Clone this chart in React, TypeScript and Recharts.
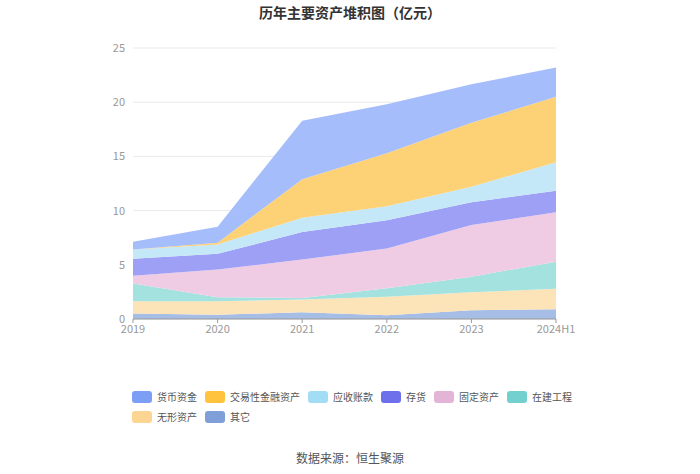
import { AreaChart, Area, XAxis, YAxis, CartesianGrid } from "recharts";

const years = ["2019", "2020", "2021", "2022", "2023", "2024H1"];

// 单位：亿元，自下而上堆积
const qita = [0.5, 0.4, 0.62, 0.35, 0.8, 0.9];
const wuxing = [1.14, 1.24, 1.17, 1.71, 1.66, 1.9];
const zaijian = [1.63, 0.36, 0.15, 0.77, 1.44, 2.49];
const guding = [0.73, 2.57, 3.55, 3.67, 4.77, 4.55];
const cunhuo = [1.55, 1.45, 2.53, 2.6, 2.09, 2.0];
const yingshou = [0.87, 0.86, 1.33, 1.3, 1.44, 2.61];
const jiaoyi = [0, 0.16, 3.55, 4.9, 5.9, 6.05];
const huobi = [0.71, 1.48, 5.4, 4.5, 3.55, 2.7];

const yTicks = [0, 5, 10, 15, 20, 25];

const series = [
  { key: "qita", name: "其它", values: qita, fill: "#A6BDE6", legend: "#7E9FD8" },
  { key: "wuxing", name: "无形资产", values: wuxing, fill: "#FDE3B8", legend: "#FDD592" },
  { key: "zaijian", name: "在建工程", values: zaijian, fill: "#A4E2E0", legend: "#72D0CE" },
  { key: "guding", name: "固定资产", values: guding, fill: "#EFCCE4", legend: "#E4B4D6" },
  { key: "cunhuo", name: "存货", values: cunhuo, fill: "#9DA0F5", legend: "#6E6FEA" },
  { key: "yingshou", name: "应收账款", values: yingshou, fill: "#C5E8F8", legend: "#A3DCF5" },
  { key: "jiaoyi", name: "交易性金融资产", values: jiaoyi, fill: "#FDD277", legend: "#FFC33D" },
  { key: "huobi", name: "货币资金", values: huobi, fill: "#A5BDFB", legend: "#7C9EF5" },
];

const legendOrder = ["huobi", "jiaoyi", "yingshou", "cunhuo", "guding", "zaijian", "wuxing", "qita"];

const data = years.map((year, i) => {
  const row: Record<string, string | number> = { year };
  series.forEach((s) => {
    row[s.key] = s.values[i];
  });
  return row;
});

const FONT = '"Noto Sans CJK SC", "Noto Sans", sans-serif';

export default function App() {
  return (
    <div
      style={{
        position: "absolute",
        left: 0,
        top: 0,
        width: 700,
        height: 474,
        background: "#fff",
        fontFamily: FONT,
      }}
    >
      <div
        style={{
          position: "absolute",
          top: 2,
          width: 700,
          textAlign: "center",
          fontSize: 14,
          fontWeight: 700,
          color: "#333",
        }}
      >
        历年主要资产堆积图（亿元）
      </div>

      <div style={{ position: "absolute", left: 0, top: 0 }}>
        <AreaChart
          width={700}
          height={360}
          data={data}
          margin={{ top: 48, right: 144, bottom: 11, left: 100 }}
        >
          <CartesianGrid stroke="#E9E9E9" vertical={false} />
          <XAxis
            dataKey="year"
            height={30}
            tick={{ fontSize: 11, fill: "#999", fontFamily: FONT }}
            tickLine={{ stroke: "#999" }}
            tickSize={4}
            axisLine={{ stroke: "#999" }}
            interval={0}
          />
          <YAxis
            width={33}
            domain={[0, 25]}
            ticks={yTicks}
            tick={{ fontSize: 11, fill: "#999", fontFamily: FONT }}
            tickLine={false}
            axisLine={false}
          />
          {series.map((s) => (
            <Area
              key={s.key}
              type="linear"
              dataKey={s.key}
              name={s.name}
              stackId="a"
              stroke="none"
              fill={s.fill}
              fillOpacity={1}
              dot={false}
              activeDot={false}
              isAnimationActive={false}
            />
          ))}
        </AreaChart>
      </div>

      <div
        style={{
          position: "absolute",
          left: 132,
          top: 390,
          width: 450,
          display: "flex",
          flexWrap: "wrap",
          rowGap: 7,
          fontSize: 10,
          color: "#555",
        }}
      >
        {legendOrder.map((k) => {
          const s = series.find((x) => x.key === k)!;
          return (
            <div
              key={k}
              style={{ display: "flex", alignItems: "center", marginRight: 8, height: 13 }}
            >
              <span
                style={{
                  width: 20,
                  height: 12,
                  borderRadius: 3,
                  background: s.legend,
                  marginRight: 5,
                  display: "inline-block",
                }}
              />
              <span style={{ lineHeight: "13px" }}>{s.name}</span>
            </div>
          );
        })}
      </div>

      <div
        style={{
          position: "absolute",
          top: 449,
          width: 700,
          textAlign: "center",
          fontSize: 12,
          color: "#555",
        }}
      >
        数据来源：恒生聚源
      </div>
    </div>
  );
}
